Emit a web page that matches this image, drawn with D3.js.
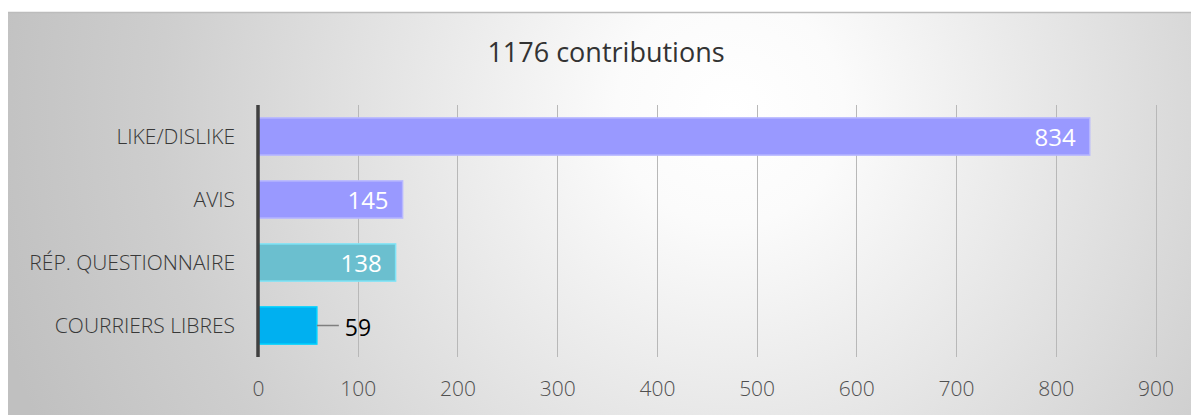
<!DOCTYPE html>
<html><head><meta charset="utf-8">
<script src="https://cdn.jsdelivr.net/npm/d3@7"></script>
<style>html,body{margin:0;padding:0;background:#fff;overflow:hidden}</style>
</head><body><svg id="c" width="1191" height="415"></svg>
<script>
const categories = ["LIKE/DISLIKE", "AVIS", "RÉP. QUESTIONNAIRE", "COURRIERS LIBRES"];
const values = [834, 145, 138, 59];
const colors = ["#9999ff", "#9999ff", "#6bbfcf", "#00b0f0"];
const ticks = [0, 100, 200, 300, 400, 500, 600, 700, 800, 900];
const title = "1176 contributions";

const svg = d3.select("#c");
const font = "'Open Sans', sans-serif";
const defs = svg.append("defs");
const g = defs.append("radialGradient").attr("id","bg").attr("gradientUnits","userSpaceOnUse")
  .attr("cx",730).attr("cy",110).attr("r",760);
g.append("stop").attr("offset","0").attr("stop-color","#ffffff");
g.append("stop").attr("offset","0.15").attr("stop-color","#fbfbfb");
g.append("stop").attr("offset","0.75").attr("stop-color","#cecece");
g.append("stop").attr("offset","1").attr("stop-color","#c0c0c0");
svg.append("rect").attr("x",8).attr("y",12).attr("width",1183).attr("height",403).attr("fill","url(#bg)");
svg.append("line").attr("x1",8).attr("x2",1191).attr("y1",12.5).attr("y2",12.5).attr("stroke","#bcbcbc").attr("stroke-width",1.5);

const x = d3.scaleLinear().domain([0,900]).range([258,1155.5]);
const y = d3.scaleBand().domain(categories).range([105,357]).paddingInner(0.41).paddingOuter(0.205);

// gridlines
svg.append("g").selectAll("line").data(ticks.slice(1)).join("line")
  .attr("x1",d=>Math.round(x(d))+0.5).attr("x2",d=>Math.round(x(d))+0.5)
  .attr("y1",105).attr("y2",357).attr("stroke","#b8b8b8").attr("stroke-width",1);

// axis bottom labels
const ax = svg.append("g").attr("transform","translate(0,389)")
  .call(d3.axisBottom(x).tickValues(ticks).tickSize(0).tickPadding(0).tickFormat(d3.format("d")));
ax.select(".domain").remove();
ax.selectAll("text").attr("font-family",font).attr("font-size",21).attr("font-weight",300).attr("fill","#505050").attr("dy","0.35em");

// category axis
const ay = svg.append("g").attr("transform","translate(235,0)")
  .call(d3.axisLeft(y).tickSize(0).tickPadding(0));
ay.select(".domain").remove();
ay.selectAll("text").attr("font-family",font).attr("font-size",21).attr("font-weight",300).attr("fill","#383838").attr("dy","0.35em");

// bars
svg.append("g").selectAll("rect").data(values).join("rect")
  .attr("x",x(0)).attr("y",(d,i)=>y(categories[i]))
  .attr("width",d=>x(d)-x(0)).attr("height",y.bandwidth())
  .attr("fill",(d,i)=>colors[i])
  .attr("stroke",(d,i)=>d3.color(colors[i]).brighter(0.5)).attr("stroke-width",1.5);

// labels
const lab = svg.append("g");
values.forEach((v,i)=>{
  const cy = y(categories[i]) + y.bandwidth()/2;
  if (x(v)-x(0) > 60) {
    lab.append("text").attr("x",x(v)-14).attr("y",cy+1).attr("dy","0.35em")
      .attr("text-anchor","end").attr("font-family",font).attr("font-size",24)
      .attr("fill","#ffffff").text(v);
  } else {
    lab.append("line").attr("x1",x(v)).attr("x2",x(v)+22).attr("y1",cy).attr("y2",cy)
      .attr("stroke","#7f7f7f").attr("stroke-width",1.5);
    lab.append("text").attr("x",x(v)+28).attr("y",cy+2).attr("dy","0.35em")
      .attr("text-anchor","start").attr("font-family",font).attr("font-size",23)
      .attr("fill","#000000").text(v);
  }
});

// value axis line
svg.append("line").attr("x1",258).attr("x2",258).attr("y1",105).attr("y2",357)
  .attr("stroke","#404040").attr("stroke-width",3.5);

svg.append("text").attr("x",606).attr("y",53).attr("dy","0.35em").attr("text-anchor","middle")
  .attr("font-family",font).attr("font-size",27).attr("fill","#333333").text(title);
</script></body></html>
